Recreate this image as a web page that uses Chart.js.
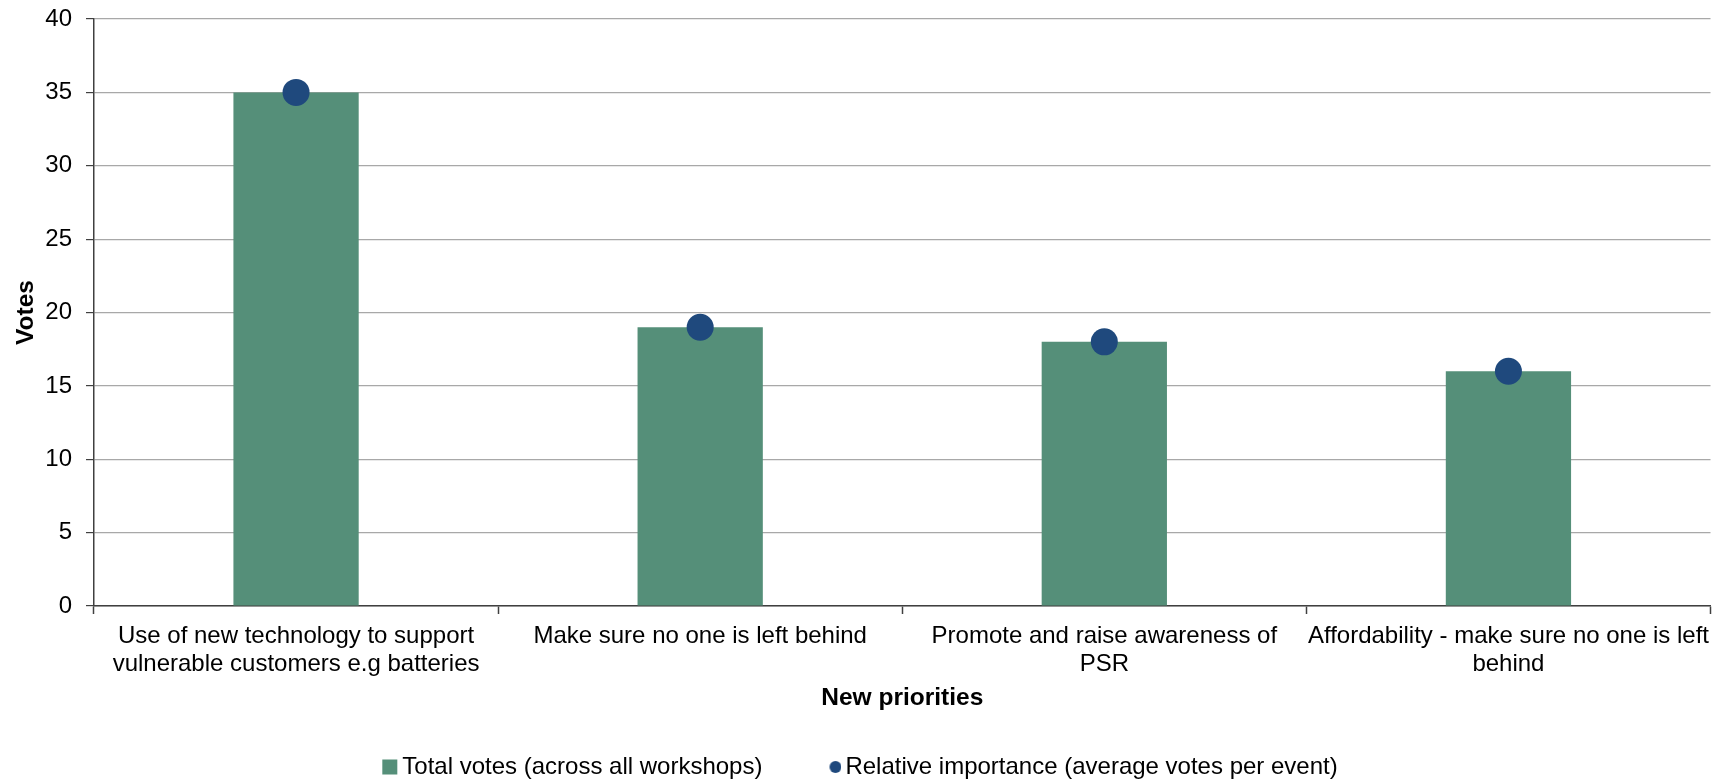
<!DOCTYPE html>
<html>
<head>
<meta charset="utf-8">
<title>New priorities</title>
<script src="https://cdn.jsdelivr.net/npm/chart.js@4/dist/chart.umd.min.js"></script>
<style>
    html, body { margin: 0; padding: 0; background: #fff; }
    #wrap { width: 1724px; height: 779px; }
</style>
</head>
<body>
<div id="wrap"><canvas id="votesChart" width="1724" height="779"></canvas></div>
<script>
// Workshop results
const categories = [
    ['Use of new technology to support', 'vulnerable customers e.g batteries'],
    'Make sure no one is left behind',
    ['Promote and raise awareness of', 'PSR'],
    ['Affordability - make sure no one is left', 'behind']
];
const totalVotes = [35, 19, 18, 16];
const relativeImportance = [35, 19, 18, 16];
const yMin = 0, yMax = 40, yStep = 5;

const BAR_COLOR = '#558F79';
const DOT_COLOR = '#1F497D';
const FONT = '"Liberation Sans", Arial, sans-serif';

// Legend symbols: 32px wide canvases, drawn centred on the 16px box,
// with the mark pushed to the right so it sits close to its text.
function makeSymbol(draw) {
    const c = document.createElement('canvas');
    c.width = 32; c.height = 16;
    draw(c.getContext('2d'));
    return c;
}
const legendSymbols = [
    makeSymbol(g => { g.fillStyle = BAR_COLOR; g.fillRect(16, 0.5, 15, 15); }),
    makeSymbol(g => { g.fillStyle = DOT_COLOR; g.beginPath(); g.arc(26, 8, 6, 0, Math.PI * 2); g.fill(); })
];

// keep the axes from reserving extra room for overhanging labels
const noLabelPadding = (scale) => {
    scale.paddingLeft = 0;
    scale.paddingRight = 0;
    scale.paddingTop = 0;
    scale.paddingBottom = 0;
};

const ctx = document.getElementById('votesChart').getContext('2d');
new Chart(ctx, {
    data: {
        labels: categories,
        datasets: [
            {
                type: 'bar',
                label: 'Total votes (across all workshops)',
                data: totalVotes,
                backgroundColor: BAR_COLOR,
                categoryPercentage: 1,
                barPercentage: 0.31,
                order: 1
            },
            {
                type: 'line',
                label: 'Relative importance (average votes per event)',
                data: relativeImportance,
                showLine: false,
                pointRadius: 13.5,
                pointHoverRadius: 13.5,
                pointBorderWidth: 0,
                pointBackgroundColor: DOT_COLOR,
                borderColor: DOT_COLOR,
                order: 0
            }
        ]
    },
    options: {
        responsive: false,
        animation: false,
        devicePixelRatio: 1,
        layout: { padding: { left: 0, right: 12, top: 19, bottom: 0 } },
        plugins: {
            tooltip: { enabled: false },
            legend: {
                position: 'bottom',
                maxHeight: 79,
                labels: {
                    usePointStyle: true,
                    boxWidth: 16,
                    boxHeight: 16,
                    padding: 55,
                    color: '#000',
                    font: { family: FONT, size: 24 },
                    generateLabels(chart) {
                        const items = Chart.defaults.plugins.legend.labels.generateLabels(chart);
                        items.forEach(it => { it.pointStyle = legendSymbols[it.datasetIndex]; });
                        return items;
                    },
                    sort: (a, b) => a.datasetIndex - b.datasetIndex
                }
            }
        },
        scales: {
            x: {
                offset: true,
                afterFit: noLabelPadding,
                grid: {
                    display: true,
                    offset: true,
                    drawOnChartArea: false,
                    tickLength: 8,
                    tickColor: '#404040',
                    tickWidth: 1.5
                },
                border: { color: '#404040', width: 1.5 },
                ticks: {
                    color: '#000',
                    padding: 7.6,
                    maxRotation: 0,
                    autoSkip: false,
                    font: { family: FONT, size: 24, lineHeight: 1.2 }
                },
                title: {
                    display: true,
                    text: 'New priorities',
                    color: '#000',
                    // negative bottom lets the legend's top padding tuck under the title
                    padding: { top: -3.5, bottom: -12.7 },
                    font: { family: FONT, size: 24.5, weight: 'bold', lineHeight: 1.2 }
                }
            },
            y: {
                min: yMin,
                max: yMax,
                afterFit: noLabelPadding,
                ticks: {
                    stepSize: yStep,
                    color: '#000',
                    padding: 14,
                    font: { family: FONT, size: 24 }
                },
                grid: {
                    color: '#A8A8A8',
                    lineWidth: 1.2,
                    tickLength: 8,
                    tickColor: '#404040'
                },
                border: { color: '#404040', width: 1.5 },
                title: {
                    display: true,
                    text: 'Votes',
                    color: '#000',
                    padding: { top: 11.3, bottom: -9.4 },
                    font: { family: FONT, size: 24.5, weight: 'bold', lineHeight: 1.2 }
                }
            }
        }
    }
});
</script>
</body>
</html>
